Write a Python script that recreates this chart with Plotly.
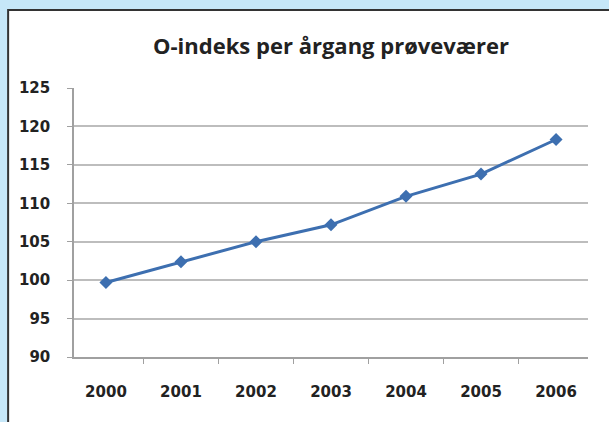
import plotly.graph_objects as go

years = ["2000", "2001", "2002", "2003", "2004", "2005", "2006"]
o_index = [99.7, 102.4, 105.0, 107.2, 110.9, 113.8, 118.3]
y_ticks = [90, 95, 100, 105, 110, 115, 120, 125]
title_text = "O-indeks per årgang prøveværer"

W, H = 609, 422
BG = "#c6e7f8"
fig = go.Figure()
fig.add_trace(go.Scatter(
    x=years, y=o_index, mode="lines+markers",
    line=dict(color="#3d6fb0", width=3),
    marker=dict(symbol="diamond", size=10, color="#3d6fb0"),
    showlegend=False,
))

tick_font = dict(family="DejaVu Sans", size=15, color="#222222", weight="bold")
fig.update_layout(
    width=W, height=H,
    paper_bgcolor=BG,
    plot_bgcolor="white",
    margin=dict(l=74, r=21, t=88, b=65),
    title=dict(text=title_text, x=0.5, xref="paper", y=1 - 46 / H, yref="container",
               xanchor="center", yanchor="middle",
               font=dict(family="Open Sans", size=22, color="#222222", weight="bold")),
    font=dict(family="Open Sans", color="#222222"),
    shapes=[dict(type="rect", xref="paper", yref="paper",
                 x0=-66 / 515, x1=1 + 30 / 515,
                 y0=-80 / 269, y1=1 + 78 / 269,
                 fillcolor="white", line=dict(color="#333333", width=2), layer="below")],
)
fig.update_xaxes(
    type="category", tickson="boundaries", ticks="outside", ticklen=5, tickcolor="#a0a0a0",
    showline=True, linecolor="#a0a0a0", linewidth=1.5, showgrid=False,
    tickfont=tick_font, ticklabelstandoff=20,
)
fig.update_yaxes(
    range=[90, 125], tickvals=y_ticks, ticks="outside", ticklen=5, tickcolor="#a0a0a0",
    showline=True, linecolor="#a0a0a0", linewidth=1.5,
    showgrid=True, gridcolor="#bdbdbd", gridwidth=1.5, zeroline=False,
    tickfont=tick_font, ticklabelstandoff=14,
)

fig.write_html("out.html", config={"displayModeBar": False},
               post_script="document.body.style.margin='0';document.body.style.background='%s';" % BG)
